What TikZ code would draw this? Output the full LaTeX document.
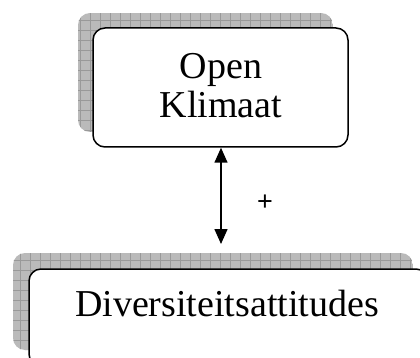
\documentclass[tikz,border=0pt]{standalone}
\usepackage{fontspec}
\setmainfont{Liberation Serif}
\newfontfamily\plusfont{Liberation Sans}
\usetikzlibrary{arrows.meta}
\tikzset{
  boxnode/.style={draw=black, line width=1.5pt, rounded corners=12pt, fill=white, inner sep=0pt},
  shadowfill/.style={fill=black!27},
  gridline/.style={draw=black!40, line width=0.4pt},
  lbl/.style={inner sep=0pt, align=center, font=\fontsize{38}{39}\selectfont},
  link/.style={line width=1.5pt, {Triangle[width=13pt,length=15pt]}-{Triangle[width=13pt,length=15pt]}},
}
\begin{document}
\begin{tikzpicture}[x=1pt,y=1pt]
\useasboundingbox (0,0) rectangle (420,-358);
\clip (0,0) rectangle (420,-358);
% top shadow
\begin{scope}
  \clip[rounded corners=12pt] (78,-13) rectangle (333,-132);
  \fill[shadowfill] (78,-13) rectangle (333,-132);
  \draw[gridline] (78,-132) grid[step=10pt] (333,-13);
\end{scope}
% bottom shadow
\begin{scope}
  \clip[rounded corners=12pt] (13,-253) rectangle (413,-350);
  \fill[shadowfill] (13,-253) rectangle (413,-350);
  \draw[gridline] (13,-350) grid[step=10pt] (413,-253);
\end{scope}
% boxes
\node[boxnode, minimum width=255pt, minimum height=119pt] (open) at (220.5,-87.5) {};
\node[boxnode, minimum width=399pt, minimum height=97pt] (div) at (228.5,-317.5) {};
% texts
\node[lbl] (opentxt) at (221,-86) {Open\\Klimaat};
\node[lbl, anchor=base] (divtxt) at (227,-316) {Diversiteitsattitudes};
% connector
\coordinate (aend) at (221,-244);
\draw[link] (open.south -| aend) -- (aend);
\node[inner sep=0pt, font=\plusfont\fontsize{27}{27}\selectfont] (plus) at (265,-203) {+};
\end{tikzpicture}
\end{document}
